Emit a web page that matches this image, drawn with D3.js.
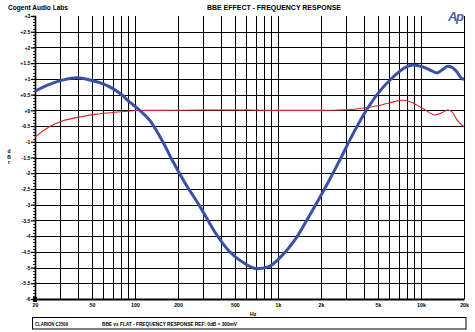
<!DOCTYPE html>
<html>
<head>
<meta charset="utf-8">
<script src="https://cdn.jsdelivr.net/npm/d3@7"></script>
<style>
  html, body { margin: 0; padding: 0; background: #fff; }
  svg { display: block; font-family: "Liberation Sans", Arial, sans-serif; }
</style>
</head>
<body>
<svg id="chart" width="475" height="332"></svg>
<script>
// Frequency axis (Hz)
const freqTicks = [20, 50, 100, 200, 500, 1000, 2000, 5000, 10000, 20000];
const freqTickLabels = ["20", "50", "100", "200", "500", "1k", "2k", "5k", "10k", "20k"];
const freqGrid = [20, 30, 40, 50, 60, 70, 80, 90, 100, 200, 300, 400, 500, 600, 700, 800, 900,
                  1000, 2000, 3000, 4000, 5000, 6000, 7000, 8000, 9000, 10000, 20000];

// Level axis (dBr)
const dbTicks = [3, 2.5, 2, 1.5, 1, 0.5, 0, -0.5, -1, -1.5, -2, -2.5, -3, -3.5, -4, -4.5, -5, -5.5, -6];
const dbTickLabels = ["+3", "+2.5", "+2", "+1.5", "+1", "+0.5", "+0", "-0.5", "-1", "-1.5", "-2",
                      "-2.5", "-3", "-3.5", "-4", "-4.5", "-5", "-5.5", "-6"];

// BBE on
const bbeFreq = [20, 25, 31, 39, 50, 60, 70, 80, 92, 108, 127, 157, 182, 224, 286, 361, 460, 589, 713,
                 853, 1030, 1310, 1670, 2130, 2700, 3420, 4020, 5170, 6400, 7900, 8800, 10300, 11500,
                 12900, 14200, 15400, 16500, 17700, 19300, 20000];
const bbeDb = [0.61, 0.82, 0.96, 1.04, 0.95, 0.84, 0.69, 0.51, 0.26, 0.0, -0.32, -1.01, -1.58, -2.31,
               -3.07, -3.86, -4.50, -4.88, -5.04, -4.98, -4.69, -4.13, -3.33, -2.48, -1.59, -0.67,
               -0.10, 0.62, 1.06, 1.38, 1.44, 1.38, 1.29, 1.19, 1.30, 1.40, 1.37, 1.24, 1.01, 0.99];

// Flat
const flatFreq = [20, 25, 31, 41, 54, 70, 92, 108, 150, 300, 600, 1000, 2000, 3000, 4000, 5200, 6400,
                  7400, 8200, 10300, 12600, 14000, 15400, 16500, 17900, 20000];
const flatDb = [-0.85, -0.53, -0.34, -0.21, -0.12, -0.07, -0.02, 0.0, 0.0, 0.01, 0.01, 0.0, 0.0, 0.02,
                0.08, 0.16, 0.27, 0.32, 0.29, 0.06, -0.15, -0.08, 0.01, -0.05, -0.31, -0.52];

const svg = d3.select("#chart");
const plotLeft = 35, plotRight = 464, plotTop = 16, plotBottom = 299;

const x = d3.scaleLog().domain([20, 20000]).range([plotLeft, plotRight]);
const y = d3.scaleLinear().domain([-6, 3]).range([plotBottom, plotTop]);

// Header
svg.append("text").attr("x", 8).attr("y", 10)
  .attr("font-size", 6.6).attr("font-weight", "bold")
  .attr("textLength", 60).attr("lengthAdjust", "spacingAndGlyphs")
  .text("Cogent Audio Labs");
svg.append("text").attr("x", 207).attr("y", 10)
  .attr("font-size", 6.6).attr("font-weight", "bold")
  .attr("textLength", 134).attr("lengthAdjust", "spacingAndGlyphs")
  .text("BBE EFFECT - FREQUENCY RESPONSE");
svg.append("text").attr("x", 448).attr("y", 21)
  .attr("font-size", 13).attr("font-weight", "bold").attr("font-style", "italic")
  .attr("fill", "#4a62b4").attr("letter-spacing", -1.5)
  .text("Ap");

// Vertical grid
svg.append("g")
  .attr("transform", `translate(0,${plotBottom})`)
  .call(d3.axisBottom(x).tickValues(freqGrid).tickSize(-(plotBottom - plotTop)).tickFormat(""))
  .call(g => g.select(".domain").remove())
  .call(g => g.selectAll("line").attr("stroke", "#000").attr("stroke-width", 1)
    .attr("shape-rendering", "crispEdges"));

// Horizontal grid
svg.append("g")
  .attr("transform", `translate(${plotLeft},0)`)
  .call(d3.axisRight(y).tickValues(dbTicks.slice(1)).tickSize(plotRight - plotLeft).tickFormat(""))
  .call(g => g.select(".domain").remove())
  .call(g => g.selectAll("line").attr("stroke", "#000").attr("stroke-width", 1)
    .attr("shape-rendering", "crispEdges"));

// Left axis with minor ticks
svg.append("g")
  .attr("transform", `translate(${plotLeft},0)`)
  .call(d3.axisLeft(y).ticks(90).tickSize(2.5).tickFormat(""))
  .call(g => g.select(".domain").attr("stroke", "#000").attr("stroke-width", 1.6))
  .call(g => g.selectAll("line").attr("stroke", "#000").attr("stroke-width", 0.8)
    .attr("shape-rendering", "crispEdges"));

svg.append("g")
  .attr("transform", `translate(${plotLeft},0)`)
  .call(d3.axisLeft(y).tickValues(dbTicks).tickSize(4).tickPadding(0.5)
    .tickFormat((d, i) => dbTickLabels[i]))
  .call(g => g.select(".domain").remove())
  .call(g => g.selectAll("line").attr("stroke", "#000").attr("stroke-width", 1.2))
  .call(g => g.selectAll("text").attr("font-size", 5.2).attr("font-weight", "bold")
    .attr("font-family", "Liberation Sans, Arial, sans-serif").attr("fill", "#000"));

// Bottom axis
svg.append("g")
  .attr("transform", `translate(0,${plotBottom})`)
  .call(d3.axisBottom(x).tickValues(freqTicks).tickSize(0).tickPadding(4)
    .tickFormat((d, i) => freqTickLabels[i]))
  .call(g => g.select(".domain").attr("stroke", "#000").attr("stroke-width", 1.8))
  .call(g => g.selectAll("text").attr("font-size", 5.2).attr("font-weight", "bold")
    .attr("font-family", "Liberation Sans, Arial, sans-serif").attr("fill", "#000"));

// Corner block at the origin
svg.append("rect").attr("x", plotLeft - 2).attr("y", plotBottom - 2).attr("width", 4).attr("height", 5)
  .attr("fill", "#000");

// Axis titles
svg.append("text").attr("x", 250).attr("y", 316)
  .attr("font-size", 5.2).attr("font-weight", "bold").text("Hz");
const yTitle = svg.append("text").attr("x", 9).attr("y", 153)
  .attr("font-size", 5).attr("font-weight", "bold").attr("text-anchor", "middle");
["d", "B", "r"].forEach((c, i) => yTitle.append("tspan").attr("x", 9).attr("dy", i ? 5.6 : 0).text(c));

// Curves
const line = d3.line().x(d => x(d[0])).y(d => y(d[1])).curve(d3.curveMonotoneX);

svg.append("path")
  .datum(flatFreq.map((f, i) => [f, flatDb[i]]))
  .attr("d", line).attr("fill", "none")
  .attr("stroke", "#d8242a").attr("stroke-width", 1.1);

svg.append("path")
  .datum(bbeFreq.map((f, i) => [f, bbeDb[i]]))
  .attr("d", line).attr("fill", "none")
  .attr("stroke", "#3b4fa6").attr("stroke-width", 3);

// Footer
svg.append("rect").attr("x", 32.5).attr("y", 317.5).attr("width", 433.5).attr("height", 11.5)
  .attr("fill", "none").attr("stroke", "#000").attr("stroke-width", 1);
svg.append("text").attr("x", 35).attr("y", 325.5)
  .attr("font-size", 5).attr("font-weight", "bold")
  .attr("textLength", 33).attr("lengthAdjust", "spacingAndGlyphs")
  .text("CLARION C2509");
svg.append("text").attr("x", 102).attr("y", 325.5)
  .attr("font-size", 5).attr("font-weight", "bold")
  .attr("textLength", 135).attr("lengthAdjust", "spacingAndGlyphs")
  .text("BBE vs FLAT - FREQUENCY RESPONSE  REF: 0dB = 300mV");
</script>
</body>
</html>
